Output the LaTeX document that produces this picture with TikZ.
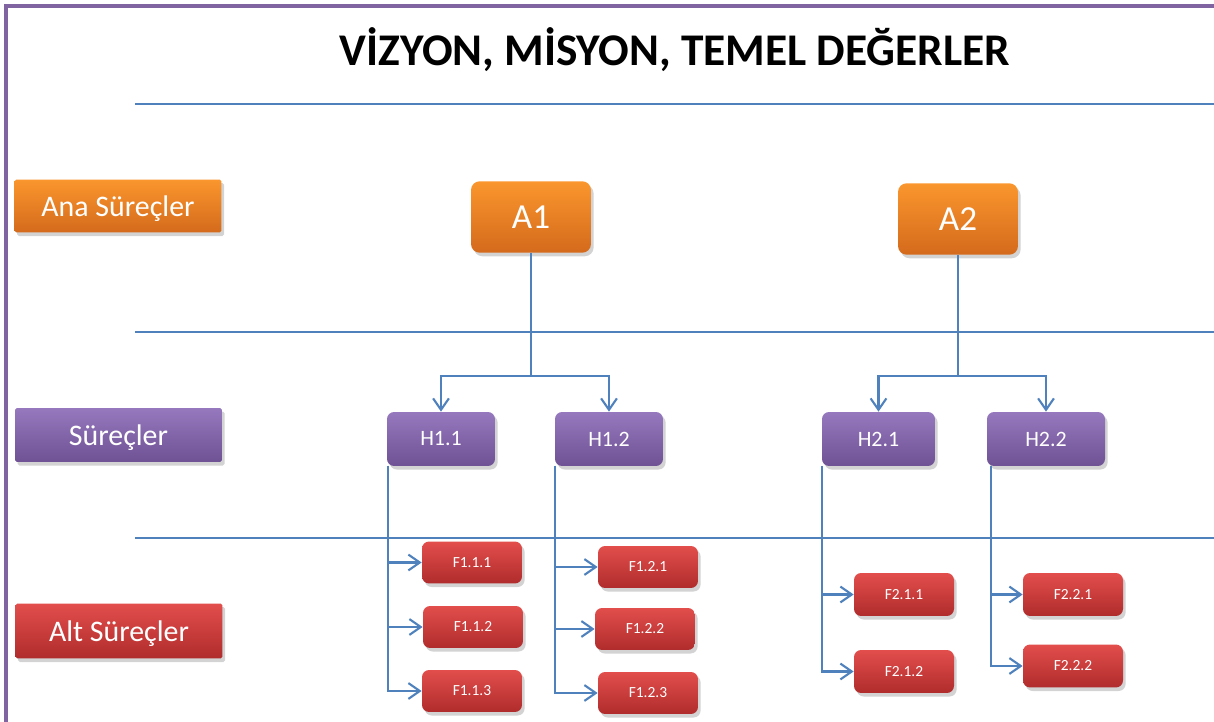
\documentclass[tikz,border=0pt]{standalone}
\usepackage{fontspec}
\setmainfont{Carlito}
\usetikzlibrary{shadows,arrows.meta}

\definecolor{lineblue}{RGB}{79,129,189}
\definecolor{frame}{RGB}{128,100,162}
\definecolor{orangetop}{RGB}{250,150,45}
\definecolor{orangebot}{RGB}{212,106,28}
\definecolor{purpletop}{RGB}{150,120,190}
\definecolor{purplebot}{RGB}{110,82,148}
\definecolor{redtop}{RGB}{226,78,76}
\definecolor{redbot}{RGB}{176,44,44}

\tikzset{
  box/.style={draw=none, text=white, inner sep=0pt,
    drop shadow={shadow xshift=1.5pt, shadow yshift=-2pt, opacity=0.35}},
  orangebox/.style={box, top color=orangetop, bottom color=orangebot},
  purplebox/.style={box, top color=purpletop, bottom color=purplebot},
  redbox/.style={box, top color=redtop, bottom color=redbot},
  levelbox/.style={minimum width=4.14cm, minimum height=1.06cm, rounded corners=1pt,
    text depth=0pt, font=\fontsize{17}{20}\selectfont},
  anabox/.style={orangebox, rounded corners=5pt, minimum width=2.4cm, minimum height=1.43cm, font=\fontsize{20}{24}\selectfont},
  hbox/.style={purplebox, rounded corners=4pt, minimum height=1.08cm, font=\fontsize{12.5}{15}\selectfont},
  fbox/.style={redbox, rounded corners=4pt, minimum width=2cm, minimum height=0.84cm, font=\fontsize{8.8}{11}\selectfont},
  sep/.style={lineblue, line width=1.2pt},
  link/.style={lineblue, line width=1.2pt},
  flow/.style={link, -{Straight Barb[length=6.5pt,width=9pt]}}
}

\begin{document}
\begin{tikzpicture}[x=0.02cm, y=-0.02cm]
\useasboundingbox (0,0) rectangle (1214,722);
% FRAME AND TITLE
\draw [frame, line width=1.8pt] (6,722) -- (6,6) -- (1214,6);
\node (title) at (675,50) {\fontsize{25.8}{30}\selectfont\bfseries VİZYON, MİSYON, TEMEL DEĞERLER};
% LEVEL SEPARATORS
\draw [sep] (135,104) -- (1214,104);
\draw [sep] (135,332) -- (1214,332);
\draw [sep] (135,538) -- (1214,538);
% LEVEL LABELS
\node [orangebox, levelbox] (ana) at (118,206) {Ana Süreçler};
\node [purplebox, levelbox, minimum height=1.08cm] (surec) at (118.5,435) {Süreçler};
\node [redbox, levelbox, minimum height=1.1cm] (alt) at (119,631) {Alt Süreçler};
% MAIN PROCESSES
\node [anabox] (A1) at (531,217) {A1};
\node [anabox] (A2) at (958,219) {A2};
% PROCESSES
\node [hbox, minimum width=2.16cm] (H11) at (441,439) {H1.1};
\node [hbox, minimum width=2.16cm] (H12) at (609,439) {H1.2};
\node [hbox, minimum width=2.26cm] (H21) at (878.5,439) {H2.1};
\node [hbox, minimum width=2.36cm] (H22) at (1046,439) {H2.2};
% SUB PROCESSES
\node [fbox] (F111) at (472,562.5) {F1.1.1};
\node [fbox] (F112) at (473,627) {F1.1.2};
\node [fbox] (F113) at (472,691) {F1.1.3};
\node [fbox] (F121) at (648,567) {F1.2.1};
\node [fbox] (F122) at (645,629) {F1.2.2};
\node [fbox] (F123) at (648,693) {F1.2.3};
\node [fbox, minimum height=0.86cm] (F211) at (904,594.5) {F2.1.1};
\node [fbox, minimum height=0.86cm] (F212) at (904,671.5) {F2.1.2};
\node [fbox, minimum height=0.86cm] (F221) at (1073,594.5) {F2.2.1};
\node [fbox, minimum height=0.86cm] (F222) at (1073,666) {F2.2.2};
% A -> H
\coordinate (J1) at (A1.south |- 0,376);
\coordinate (J2) at (A2.south |- 0,376);
\draw [link] (A1.south) -- (J1);
\draw [flow] (J1) -| (H11);
\draw [flow] (J1) -| (H12);
\draw [link] (A2.south) -- (J2);
\draw [flow] (J2) -| (H21);
\draw [flow] (J2) -| (H22);
% H -> F
\coordinate (T11) at (388,466);
\coordinate (T12) at (555,466);
\coordinate (T21) at (822,466);
\coordinate (T22) at (991,466);
\foreach \t/\f in {T11/F111, T11/F112, T11/F113, T12/F121, T12/F122, T12/F123,
                   T21/F211, T21/F212, T22/F221, T22/F222}
  \draw [flow] (\t) |- (\f.west);
\end{tikzpicture}
\end{document}
